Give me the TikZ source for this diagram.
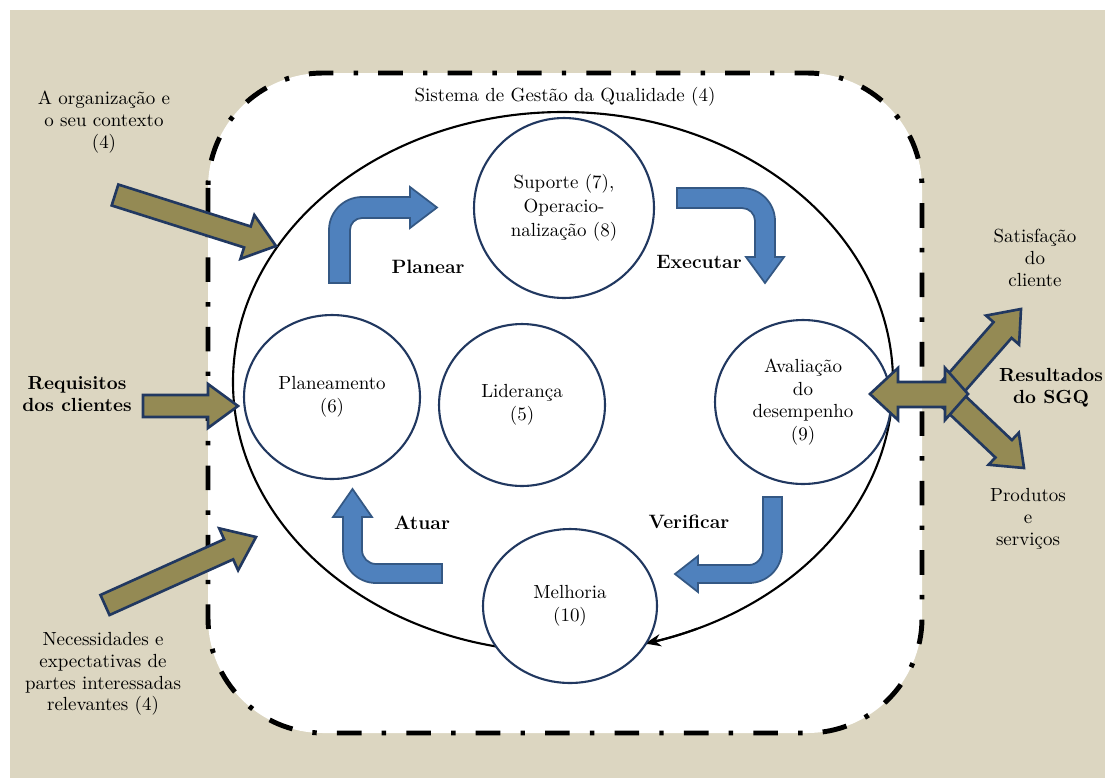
\documentclass[tikz,border=0pt]{standalone}
\usepackage{fontspec}
\usetikzlibrary{calc,shapes.geometric,arrows.meta}

\definecolor{paper}{RGB}{220,214,193}
\definecolor{navy}{RGB}{33,56,96}
\definecolor{flowblue}{RGB}{79,129,189}
\definecolor{flowedge}{RGB}{52,88,132}
\definecolor{khaki}{RGB}{148,138,84}

\tikzset{
  txt/.style={font=\fontsize{10.8}{12.4}\selectfont, align=center, inner sep=0pt},
  lbl/.style={font=\fontsize{11}{13}\selectfont\bfseries, align=center, inner sep=0pt},
  stage/.style={ellipse, draw=navy, line width=1.2pt, fill=white, align=center,
    inner sep=0pt, font=\fontsize{10.8}{12.8}\selectfont},
  border/.style={line width=2.8pt, dash pattern=on 14pt off 11.5pt on 2.5pt off 11.5pt},
  ringline/.style={line width=1.2pt, black},
  bluearrow/.style={fill=flowblue, draw=flowedge, line width=1pt, line join=miter},
  khakiarrow/.style={fill=khaki, draw=navy, line width=1.5pt, line join=miter},
}

% straight block arrow: tail, tip, half shaft, half head, head length
\newcommand\fatarrow[5]{%
  \path ($(#2)!#5!(#1)$) coordinate (fa-h);
  \draw[khakiarrow] ($(#1)!#3!90:(#2)$) -- ($(fa-h)!#3!90:(#2)$)
    -- ($(fa-h)!#4!90:(#2)$) -- (#2) -- ($(fa-h)!#4!-90:(#2)$)
    -- ($(fa-h)!#3!-90:(#2)$) -- ($(#1)!#3!-90:(#2)$) -- cycle;
}

\begin{document}
\begin{tikzpicture}[x=0.02cm, y=-0.02cm]
\useasboundingbox (0,0) rectangle (1105,778);
\fill[white] (0,0) rectangle (1105,778);
\fill[paper] (10,10) rectangle (1105,778);

% system boundary
\fill[white, rounded corners=2.3cm] (208,73) rectangle (922,733);
\draw[border, rounded corners=2.3cm] (208,73) rectangle (922,733);
\node[txt] (sgq) at (565,97) {Sistema de Gestão da Qualidade (4)};

% PDCA ring
\coordinate (ring) at (563,382);
\draw[ringline] (ring) ellipse [x radius=330, y radius=270];
\draw[ringline, -{Stealth[length=9pt,width=7pt]}] (ring) ++(66:330 and 270)
  arc[start angle=66, end angle=75.6, x radius=330, y radius=270];

% clauses
\node[stage, minimum width=3.6cm, minimum height=3.6cm,
  font=\fontsize{10.8}{13.6}\selectfont] (sup) at (564,208)
  {Suporte (7),\\Operacio-\\nalização (8)};
\node[stage, minimum width=3.52cm, minimum height=3.28cm] (plan) at (332,397)
  {Planeamento\\(6)};
\node[stage, minimum width=3.32cm, minimum height=3.24cm] (lid) at (522,405)
  {Liderança\\(5)};
\node[stage, minimum width=3.52cm, minimum height=3.28cm] (aval) at (803,402)
  {Avaliação\\do\\desempenho\\(9)};
\node[stage, minimum width=3.48cm, minimum height=3.08cm] (melh) at (570,606)
  {Melhoria\\(10)};

% cycle arrows (bent block arrows, quarter-round elbows)
\draw[bluearrow] (329,283) -- (329,230) .. controls (329,211.8) and (343.8,197) .. (362,197)
  -- (410,197) -- (410,187) -- (437,207.5) -- (410,228) -- (410,218)
  -- (362,218) .. controls (355.4,218) and (350,223.4) .. (350,230) -- (350,283) -- cycle;
\draw[bluearrow] (677,188) -- (742,188) .. controls (760.2,188) and (775,202.8) .. (775,221)
  -- (775,257) -- (784,257) -- (765,283) -- (746,257) -- (755,257)
  -- (755,221) .. controls (755,213.8) and (749.2,208) .. (742,208) -- (677,208) -- cycle;
\draw[bluearrow] (763,497) -- (782,497) -- (782,550) .. controls (782,568.2) and (767.2,583) .. (749,583)
  -- (698,583) -- (698,592) -- (675,574) -- (698,556) -- (698,565)
  -- (749,565) .. controls (756.7,565) and (763,557.7) .. (763,550) -- cycle;
\draw[bluearrow] (442,564) -- (442,583) -- (376,583) .. controls (357.8,583) and (343,568.2) .. (343,550)
  -- (343,517) -- (333,517) -- (352.5,489) -- (372,517) -- (362,517)
  -- (362,550) .. controls (362,557.7) and (368.3,564) .. (376,564) -- cycle;

\node[lbl] (planear) at (428,267) {Planear};
\node[lbl] (executar) at (699,262) {Executar};
\node[lbl] (atuar) at (422,523) {Atuar};
\node[lbl] (verificar) at (689,522) {Verificar};

% inputs
\coordinate (in1a) at (115,195);  \coordinate (in1b) at (276,246);
\coordinate (in2a) at (143,406);  \coordinate (in2b) at (238,406);
\coordinate (in3a) at (105,605);  \coordinate (in3b) at (256,537);
\fatarrow{in1a}{in1b}{0.22cm}{0.46cm}{0.6cm}
\fatarrow{in2a}{in2b}{0.22cm}{0.44cm}{0.6cm}
\fatarrow{in3a}{in3b}{0.22cm}{0.46cm}{0.6cm}

\node[txt] (ctx) at (104,122) {A organização e\\o seu contexto\\(4)};
\node[lbl, font=\fontsize{10.8}{12.4}\selectfont\bfseries] (req) at (77,394) {Requisitos\\dos clientes};
\node[txt] (nec) at (103,674) {Necessidades e\\expectativas de\\partes interessadas\\relevantes (4)};

% outputs
\coordinate (out1a) at (950,390); \coordinate (out1b) at (1021,309);
\coordinate (out2a) at (950,398); \coordinate (out2b) at (1024,468);
\fatarrow{out1a}{out1b}{0.24cm}{0.44cm}{0.56cm}
\fatarrow{out2a}{out2b}{0.24cm}{0.44cm}{0.56cm}
\draw[khakiarrow] (870,394) -- (898,368) -- (898,382) -- (945,382) -- (945,368)
  -- (968,394) -- (945,420) -- (945,407) -- (898,407) -- (898,420) -- cycle;

\node[txt] (sat) at (1035,258) {Satisfação\\do\\cliente};
\node[lbl, font=\fontsize{10.8}{12.4}\selectfont\bfseries] (res) at (1051,388) {Resultados\\do SGQ};
\node[txt] (prod) at (1028,519) {Produtos\\e\\serviços};
\end{tikzpicture}
\end{document}
